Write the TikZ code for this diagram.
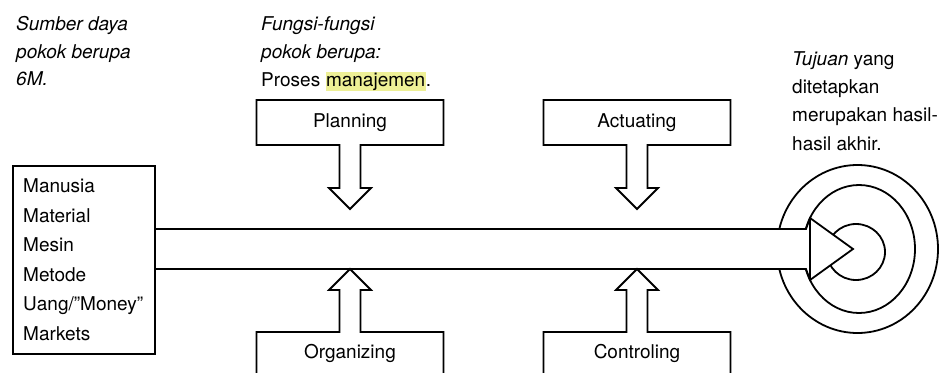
\documentclass[tikz,border=0pt]{standalone}
\usepackage{fontspec}
\setmainfont{TeX Gyre Heros}
\usepackage{xcolor}
\definecolor{markyellow}{RGB}{238,240,150}
\setlength{\fboxsep}{0.5pt}
\tikzset{
  shape line/.style={line width=1.8pt, line join=miter},
  note/.style={align=left, inner sep=0pt, anchor=base west,
    font=\fontsize{19}{27.5}\selectfont},
}
\begin{document}
\begin{tikzpicture}[x=1pt, y=-1pt, font=\fontsize{19}{23}\selectfont]
    \useasboundingbox (0,0) rectangle (942,372);
    \clip (0,0) rectangle (942,372);
    \def \halfw {93.5} % half width of a function box
    \def \stem {10.5}
    \def \wing {21}

    % target rings
    \draw[shape line] (857.5,249) ellipse [x radius=80.5pt, y radius=84pt];
    \draw[shape line] (859,249) ellipse [x radius=56pt, y radius=64pt];
    \draw[shape line] (856,252) ellipse [x radius=29pt, y radius=28pt];

    % main arrow from the resources to the target
    \filldraw[shape line, fill=white] (154,229) -- (806,229) -- (810,218) -- (853,249)
      -- (810,280) -- (806,269) -- (154,269);
    \draw[shape line] (810,218) -- (810,280);

    % resources
    \node[draw, shape line, minimum width=142pt, minimum height=188pt,
      anchor=north west] (res) at (12,165) {};
    \node[note, font=\fontsize{19}{29.5}\selectfont] (resList) at (23,340)
      {Manusia\\Material\\Mesin\\Metode\\Uang/''Money''\\Markets};

    % functions from above
    \foreach \cx/\name/\lbl in {350/plan/Planning, 637/act/Actuating}
    {
      \draw[shape line] (\cx-\halfw,100) -- (\cx+\halfw,100) -- (\cx+\halfw,145)
        -- (\cx+\stem,145) -- (\cx+\stem,188) -- (\cx+\wing,188) -- (\cx,209)
        -- (\cx-\wing,188) -- (\cx-\stem,188) -- (\cx-\stem,145)
        -- (\cx-\halfw,145) -- cycle;
      \node (\name) at (\cx,122.5) {\lbl};
    }

    % functions from below
    \foreach \cx/\name/\lbl in {350/org/Organizing, 637/ctrl/Controling}
    {
      \draw[shape line] (\cx-\halfw,380) -- (\cx-\halfw,332) -- (\cx-\stem,332)
        -- (\cx-\stem,290) -- (\cx-\wing,290) -- (\cx,269) -- (\cx+\wing,290)
        -- (\cx+\stem,290) -- (\cx+\stem,332) -- (\cx+\halfw,332)
        -- (\cx+\halfw,380);
      \node (\name) at (\cx,353) {\lbl};
    }

    % notes
    \node[note] (sumber) at (16,85.5)
      {\textit{Sumber daya}\\\textit{pokok berupa}\\\textit{6M.}};
    \node[note, font=\fontsize{19}{28}\selectfont] (fungsi) at (261,86)
      {\textit{Fungsi-fungsi}\\\textit{pokok berupa:}\\Proses \colorbox{markyellow}{manajemen}.};
    \node[note, font=\fontsize{19}{28.3}\selectfont] (tujuan) at (792,150)
      {\textit{Tujuan} yang\\ditetapkan\\merupakan hasil-\\hasil akhir.};
\end{tikzpicture}
\end{document}
